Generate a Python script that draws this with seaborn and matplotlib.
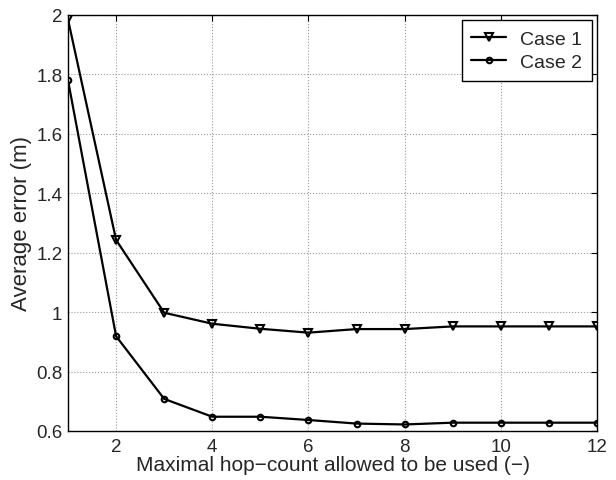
import pandas as pd
import matplotlib.pyplot as plt
import seaborn as sns

# hop-count values
hops = [1, 2, 3, 4, 5, 6, 7, 8, 9, 10, 11, 12]
case1 = [1.985, 1.243, 0.998, 0.961, 0.944, 0.931, 0.943, 0.943, 0.952, 0.952, 0.952, 0.952]
case2 = [1.78, 0.919, 0.708, 0.648, 0.648, 0.637, 0.625, 0.622, 0.628, 0.628, 0.628, 0.628]

df1 = pd.DataFrame({'hop': hops, 'err': case1})
df2 = pd.DataFrame({'hop': hops, 'err': case2})

sns.set_style('white')
plt.rcParams['font.family'] = ['Liberation Sans', 'DejaVu Sans']

fig = plt.figure(figsize=(6.16, 4.81), dpi=100)
ax = fig.add_axes([68 / 616, 1 - 432 / 481, (597 - 68) / 616, (432 - 16) / 481])

sns.lineplot(data=df1, x='hop', y='err', marker='v', color='black', linewidth=1.6,
             markersize=5.2, markerfacecolor='none', markeredgecolor='black',
             markeredgewidth=1.5, label='Case 1', ax=ax)
sns.lineplot(data=df2, x='hop', y='err', marker='o', color='black', linewidth=1.6,
             markersize=4, markerfacecolor='none', markeredgecolor='black',
             markeredgewidth=1.5, label='Case 2', ax=ax)

ax.set_xlim(1, 12)
ax.set_ylim(0.6, 2)
ax.set_xticks([2, 4, 6, 8, 10, 12])
ax.set_yticks([0.6, 0.8, 1, 1.2, 1.4, 1.6, 1.8, 2])
ax.set_yticklabels(['0.6', '0.8', '1', '1.2', '1.4', '1.6', '1.8', '2'])
ax.grid(True, linestyle=':', color='#999999', linewidth=0.8)
ax.tick_params(direction='in', labelsize=13.5, length=4, top=True, right=True, color='black')
ax.tick_params(axis='x', pad=5)
ax.tick_params(axis='y', pad=4)
for s in ax.spines.values():
    s.set_color('black')
    s.set_linewidth(1.0)

ax.set_xlabel('Maximal hop\u2212count allowed to be used (\u2212)', fontsize=15, labelpad=0)
ax.set_ylabel('Average error (m)', fontsize=16, labelpad=3)

leg = ax.legend(loc='upper right', fontsize=14, frameon=True, fancybox=False,
                edgecolor='black', framealpha=1, borderaxespad=0.28, handlelength=1.8,
                handletextpad=0.7, labelspacing=0.3, borderpad=0.5)
leg.get_frame().set_linewidth(1.0)

fig.savefig('out.png', dpi=100)
